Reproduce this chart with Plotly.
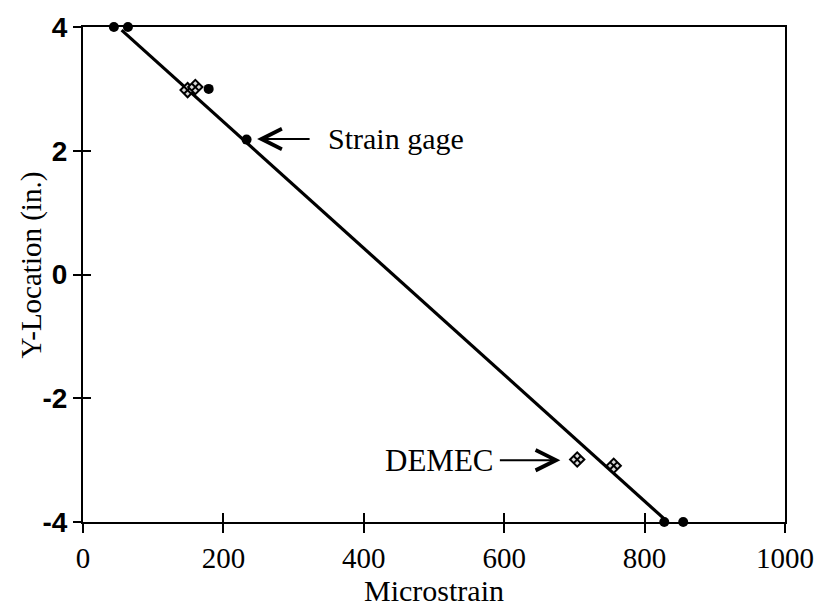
import plotly.graph_objects as go

# Data
gage_x = [44, 64, 179, 233, 828, 855]
gage_y = [4.0, 4.0, 3.0, 2.18, -4.0, -4.0]

demec_x = [149, 160, 704, 756]
demec_y = [2.98, 3.03, -2.99, -3.09]

fit_x = [55, 830]
fit_y = [3.95, -3.97]

x_ticks = [0, 200, 400, 600, 800, 1000]
y_ticks = [-4, -2, 0, 2, 4]
y_tick_text = ["-4", "-2", "0", "2", "4"]

SERIF = "Liberation Serif, Times New Roman, serif"
NARROW = "Liberation Sans Narrow, Arial Narrow, Liberation Sans, sans-serif"

fig = go.Figure()

fig.add_trace(go.Scatter(x=fit_x, y=fit_y, mode="lines",
                         line=dict(color="black", width=3.2), showlegend=False,
                         cliponaxis=False))
fig.add_trace(go.Scatter(x=gage_x, y=gage_y, mode="markers",
                         marker=dict(symbol="circle", size=10, color="black"),
                         showlegend=False, cliponaxis=False))
fig.add_trace(go.Scatter(x=demec_x, y=demec_y, mode="markers",
                         marker=dict(symbol="diamond-x", size=11, color="#d8d8d8",
                                     line=dict(color="black", width=2)),
                         showlegend=False, cliponaxis=False))
# empty trace to activate the overlay axes (inside half of crossing ticks)
fig.add_trace(go.Scatter(x=[None], y=[None], xaxis="x2", yaxis="y2",
                         mode="markers", showlegend=False, hoverinfo="skip"))

fig.update_layout(
    width=826, height=607,
    margin=dict(l=83, r=38, t=22, b=83),
    paper_bgcolor="white", plot_bgcolor="white",
    showlegend=False,
    xaxis=dict(range=[0, 1000], tickvals=x_ticks, ticks="outside", ticklen=9,
               tickwidth=1.5, tickcolor="black", showgrid=False, zeroline=False,
               showline=True, linecolor="black", linewidth=2, mirror=True,
               tickfont=dict(family=SERIF, size=29, color="black"),
               title=dict(text="Microstrain", standoff=0,
                          font=dict(family=SERIF, size=30, color="black"))),
    yaxis=dict(range=[-4, 4], tickvals=y_ticks, ticktext=y_tick_text,
               ticks="outside", ticklen=8,
               tickwidth=1.5, tickcolor="black", showgrid=False, zeroline=False,
               showline=True, linecolor="black", linewidth=2, mirror=True,
               tickfont=dict(family=NARROW, size=28, color="black", weight="bold")),
    xaxis2=dict(overlaying="x", range=[0, 1000], tickvals=x_ticks, ticks="inside",
                ticklen=9, tickwidth=1.5, tickcolor="black", showticklabels=False,
                showgrid=False, zeroline=False, showline=False, side="bottom",
                anchor="y"),
    yaxis2=dict(overlaying="y", range=[-4, 4], tickvals=y_ticks, ticks="inside",
                ticklen=8, tickwidth=1.5, tickcolor="black", showticklabels=False,
                showgrid=False, zeroline=False, showline=False, side="left",
                anchor="x"),
)

# Y-axis title
fig.add_annotation(x=0, y=0.5, xref="paper", yref="paper", text="Y-Location (in.)",
                   textangle=-90, showarrow=False, xanchor="center", yanchor="middle",
                   xshift=-52, yshift=9,
                   font=dict(family=SERIF, size=29, color="black"))

# Strain gage label with arrow
fig.add_annotation(x=248, y=2.19, xref="x", yref="y", text="", showarrow=True,
                   ax=54, ay=0, arrowhead=5, arrowsize=2, arrowwidth=2,
                   arrowcolor="black", standoff=0)
fig.add_annotation(x=346, y=2.19, xref="x", yref="y", text="Strain gage",
                   showarrow=False, xanchor="left", yanchor="middle",
                   font=dict(family=SERIF, size=30, color="black"))

# DEMEC label with arrow
fig.add_annotation(x=680, y=-3.0, xref="x", yref="y", text="", showarrow=True,
                   ax=-62, ay=0, arrowhead=5, arrowsize=2, arrowwidth=2,
                   arrowcolor="black", standoff=0)
fig.add_annotation(x=589, y=-3.0, xref="x", yref="y", text="DEMEC",
                   showarrow=False, xanchor="right", yanchor="middle",
                   font=dict(family=SERIF, size=31, color="black"))

fig.write_html("out.html")
